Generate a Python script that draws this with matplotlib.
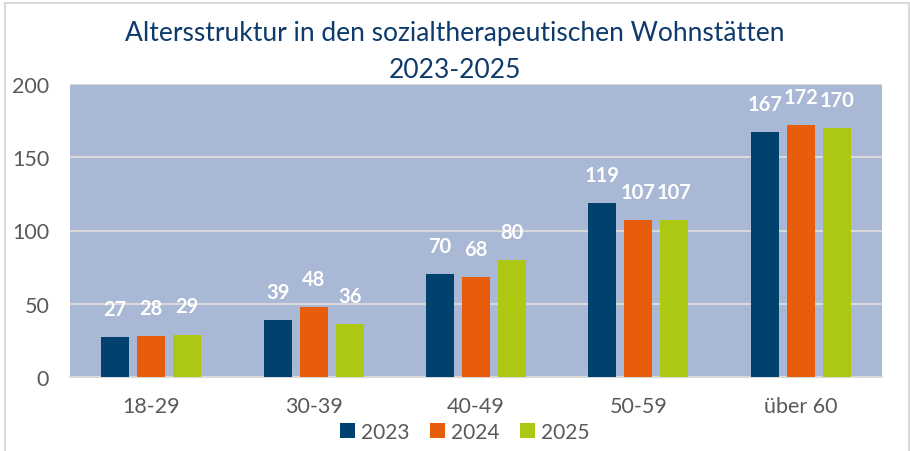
import numpy as np
import matplotlib
matplotlib.use("Agg")
import matplotlib.pyplot as plt
from matplotlib.patches import Rectangle

plt.rcParams["font.family"] = ["Lato", "DejaVu Sans"]

categories = ["18-29", "30-39", "40-49", "50-59", "über 60"]
years = ["2023", "2024", "2025"]
values_2023 = [27, 39, 70, 119, 167]
values_2024 = [28, 48, 68, 107, 172]
values_2025 = [29, 36, 80, 107, 170]
colors = ["#00416e", "#e85d0c", "#acc813"]

fig = plt.figure(figsize=(9.10, 4.52), dpi=100)
ax = fig.add_axes([70 / 910, 1 - 378 / 452, 812 / 910, 293 / 452])
ax.set_facecolor("#a9b8d4")

x = np.arange(len(categories))
width = 0.172
step = 0.222

for i, (vals, col, yr) in enumerate(zip([values_2023, values_2024, values_2025], colors, years)):
    bars = ax.bar(x + (i - 1) * step, vals, width, color=col, label=yr, zorder=3)
    for b, v in zip(bars, vals):
        ax.annotate(str(v), (b.get_x() + b.get_width() / 2, v),
                    xytext=(0, 13), textcoords="offset points",
                    ha="center", va="bottom", color="white",
                    fontsize=14.5, fontweight="bold", zorder=4)

ax.set_xlim(-0.5, 4.5)
ax.set_ylim(0, 200)
ax.set_yticks([0, 50, 100, 150, 200])
ax.set_xticks(x)
ax.set_xticklabels(categories)
ax.tick_params(axis="both", length=0, labelsize=15.5, labelcolor="#595959")
ax.tick_params(axis="y", pad=15)
ax.tick_params(axis="x", pad=14)
ax.grid(axis="y", color="#d9d9d9", linewidth=1.5, zorder=1)
for s in ["left", "right", "top"]:
    ax.spines[s].set_visible(False)
ax.spines["bottom"].set_color("#d9d9d9")
ax.spines["bottom"].set_linewidth(1.5)

fig.text(0.5, 1 - 33 / 452, "Altersstruktur in den sozialtherapeutischen Wohnstätten",
         ha="center", va="center", fontsize=19, color="#0e3b6b")
fig.text(0.5, 1 - 70 / 452, "2023-2025",
         ha="center", va="center", fontsize=19, color="#0e3b6b")

ax.legend(loc="center", bbox_to_anchor=(465 / 910, 1 - 433 / 452),
          bbox_transform=fig.transFigure, ncol=3, frameon=False,
          fontsize=15, labelcolor="#595959", handlelength=0.7, handleheight=0.7,
          handletextpad=0.3, columnspacing=1.0)

fig.add_artist(Rectangle((5 / 910, -0.05), 904 / 910, 448 / 452 + 0.05,
                         transform=fig.transFigure, fill=False,
                         edgecolor="#d9d9d9", linewidth=1.5))

fig.savefig("out.png", dpi=100)
